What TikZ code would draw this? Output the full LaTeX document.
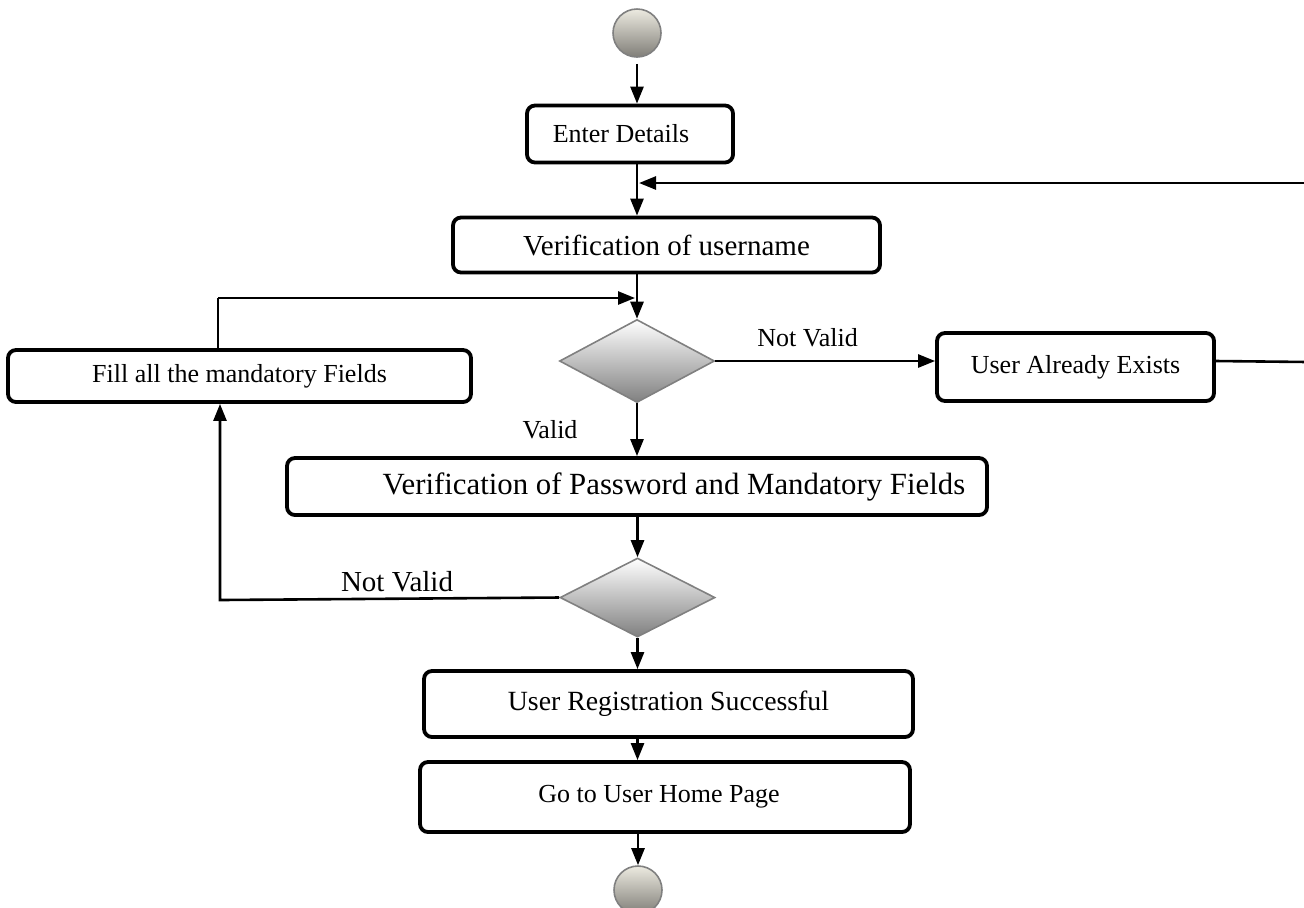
\documentclass[tikz,border=0pt]{standalone}
\usepackage{fontspec}
\setmainfont{Liberation Serif}
\usetikzlibrary{shapes.geometric,arrows.meta}
\definecolor{flowgray}{RGB}{128,128,128}
\definecolor{startbeige}{RGB}{236,234,224}
\definecolor{startgray}{RGB}{128,126,120}
\tikzset{
    actbox/.style={draw, line width=1.9pt, rounded corners=4pt, fill=white, inner sep=0pt, align=center, font=\fontsize{13}{15}\selectfont},
    decision/.style={diamond, draw=flowgray, line width=0.8pt, top color=white, bottom color=flowgray, minimum width=77.5pt, minimum height=41.5pt, inner sep=0pt},
    terminal/.style={circle, draw=flowgray, line width=0.8pt, top color=startbeige, bottom color=startgray, minimum size=24pt, inner sep=0pt},
    flow/.style={line width=1.3pt, -{Triangle[length=8.5pt,width=6.5pt]}}
}

\begin{document}
\begin{tikzpicture}[x=0.5pt, y=-0.5pt]
    \useasboundingbox (0,0) rectangle (1304,907);
    \begin{scope}
        \clip (0,0) rectangle (1304,907);

        % activities
        \node[terminal] (start) at (637,33) {};
        \node[actbox, minimum width=103pt, minimum height=28.5pt] (enter) at (630,134) {Enter Details\hspace*{9pt}};
        \node[actbox, minimum width=213.5pt, minimum height=27.5pt, font=\fontsize{14.5}{17}\selectfont] (uname) at (666.5,245) {Verification of username};
        \node[decision] (check1) at (637,361) {};
        \node[actbox, minimum width=138.5pt, minimum height=34pt] (exists) at (1075.5,367) {User Already Exists};
        \node[actbox, minimum width=231.5pt, minimum height=26pt] (fill) at (239.5,376) {Fill all the mandatory Fields};
        \node[actbox, minimum width=350pt, minimum height=28.5pt, font=\fontsize{15.4}{17}\selectfont] (pass) at (637,486.5) {\hspace*{37pt}Verification of Password and Mandatory Fields};
        \node[decision, minimum height=39.5pt] (check2) at (637.5,597.5) {};
        \node[actbox, minimum width=244.5pt, minimum height=33pt, font=\fontsize{13.9}{16}\selectfont] (reg) at (668.5,704) {User Registration Successful};
        \node[actbox, minimum width=245pt, minimum height=35pt] (home) at (665,797) {Go to User Home Page\hspace*{6pt}};
        \node[terminal] (end) at (638,890) {};

        % loop corners
        \coordinate (backbot) at (1308,362);
        \coordinate (backtop) at (1308,183);
        \coordinate (fillup) at (218,298);
        \coordinate (backleft) at (220,600);

        % connectors
        \draw[flow] ([yshift=-3pt]start.south) -- (start |- enter.north);
        \draw[flow] (enter.south -| start) -- (uname.north -| start);
        \draw[flow] (uname.south -| start) -- (check1.north);
        \draw[flow] (check1.east) -- (check1.east -| exists.west)
            node[pos=0.42, above=3pt, font=\fontsize{13}{15}\selectfont] {Not Valid};
        \draw[line width=1.3pt] ([yshift=3pt]exists.east) -- (backbot) -- (backtop);
        \draw[flow] (backtop) -- ([xshift=1pt]backtop -| start);
        \draw[line width=1.3pt] (fill.north -| fillup) -- (fillup);
        \draw[flow] (fillup) -- ([xshift=-1pt]fillup -| check1);
        \draw[flow] (check1.south) -- (pass.north -| check1);
        \node[font=\fontsize{13}{15}\selectfont] (validlbl) at (550,430) {Valid};
        \draw[flow] (pass.south -| check2) -- (check2.north);
        \draw[flow] (check2.west) -- (backleft) -- (backleft |- fill.south);
        \node[font=\fontsize{14.5}{17}\selectfont] (notvalidlbl) at (397,582) {Not Valid};
        \draw[flow] (check2.south) -- (check2.south |- reg.north);
        \draw[flow] (reg.south -| check2) -- (home.north -| check2);
        \draw[flow] (home.south -| end) -- (end.north);
    \end{scope}
\end{tikzpicture}
\end{document}
